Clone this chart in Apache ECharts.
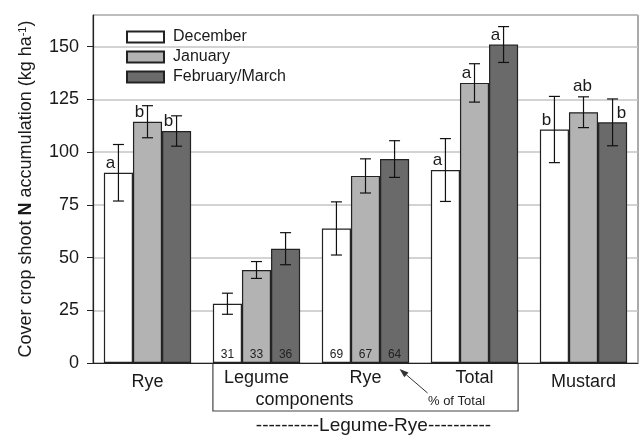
<!DOCTYPE html>
<html>
<head>
<meta charset="utf-8">
<script src="https://cdn.jsdelivr.net/npm/echarts@6/dist/echarts.min.js"></script>
<style>html,body{margin:0;padding:0;background:#fff}#c{width:639px;height:435px}</style>
</head>
<body>
<div id="c"></div>
<script>
// ---- data ----
const categoryKeys = ['rye', 'legume', 'lrRye', 'total', 'mustard'];
const categoryLabels = ['Rye', 'Legume components', 'Rye', 'Total', 'Mustard'];
const seriesNames = ['December', 'January', 'February/March'];
const decValues = [90.2, 28.1, 63.8, 91.5, 110.7];
const janValues = [114.4, 44.1, 88.7, 132.8, 118.9];
const febValues = [110.0, 54.2, 96.7, 151.0, 114.1];
const decErr = [13.4, 5.0, 12.6, 14.9, 15.7];
const janErr = [7.6, 4.0, 8.1, 9.1, 7.3];
const febErr = [7.2, 7.6, 8.7, 8.5, 11.1];
const decLetters = ['a', '', '', 'a', 'b'];
const janLetters = ['b', '', '', 'a', 'ab'];
const febLetters = ['b', '', '', 'a', 'b'];
const decShare = [null, 31, 69, null, null];
const janShare = [null, 33, 67, null, null];
const febShare = [null, 36, 64, null, null];
const yTicks = [0, 25, 50, 75, 100, 125, 150];

// ---- styling ----
const FONT = '"Liberation Sans", Arial, sans-serif';
const TXT = '#1a1a1a';
const colors = ['#ffffff', '#b3b3b3', '#6a6a6a'];
const letterNudge = { '4-1': [-1, -16], '4-2': [9, 0] };

const values = [decValues, janValues, febValues];
const errs = [decErr, janErr, febErr];
const letters = [decLetters, janLetters, febLetters];
const shares = [decShare, janShare, febShare];

const chart = echarts.init(document.getElementById('c'), null, { renderer: 'canvas' });

const barSeries = values.map((vals, s) => ({
  name: seriesNames[s],
  type: 'bar',
  barGap: '0%',
  barCategoryGap: '20%',
  itemStyle: { color: colors[s], borderColor: '#222', borderWidth: 1.2 },
  emphasis: { disabled: true },
  z: 2,
  data: vals.map((v, k) => {
    const item = { value: v };
    if (letters[s][k]) {
      item.label = {
        show: true, position: 'top', distance: 1,
        offset: letterNudge[k + '-' + s] || [-8, 0],
        formatter: letters[s][k], fontSize: 17, color: TXT, fontFamily: FONT
      };
    } else if (shares[s][k] != null) {
      item.label = {
        show: true, position: 'insideBottom', distance: 2,
        formatter: String(shares[s][k]), fontSize: 12, color: '#222', fontFamily: FONT
      };
    }
    return item;
  })
}));

const errSeries = values.map((vals, s) => ({
  type: 'custom',
  z: 5,
  silent: true,
  data: vals.map((v, k) => [k, v - errs[s][k], v + errs[s][k]]),
  renderItem: function (params, api) {
    const lo = api.coord([api.value(0), api.value(1)]);
    const hi = api.coord([api.value(0), api.value(2)]);
    const band = api.size([1, 0])[0];
    const bw = band * 0.8 / 3;
    const x = lo[0] + (s - 1) * bw;
    const cap = 5.5;
    const st = { stroke: '#111', lineWidth: 1.2 };
    return {
      type: 'group',
      children: [
        { type: 'line', shape: { x1: x, y1: lo[1], x2: x, y2: hi[1] }, style: st },
        { type: 'line', shape: { x1: x - cap, y1: lo[1], x2: x + cap, y2: lo[1] }, style: st },
        { type: 'line', shape: { x1: x - cap, y1: hi[1], x2: x + cap, y2: hi[1] }, style: st }
      ]
    };
  }
}));

chart.setOption({
  animation: false,
  textStyle: { fontFamily: FONT, color: TXT },
  grid: { left: 93, right: 1, top: 15, bottom: 72, show: true, borderColor: '#555', borderWidth: 1 },
  legend: {
    data: seriesNames,
    orient: 'vertical',
    left: 126, top: 29, padding: 0,
    itemWidth: 37, itemHeight: 11, itemGap: 4,
    icon: 'rect',
    selectedMode: false,
    textStyle: { fontSize: 16, color: TXT, fontFamily: FONT, padding: [0, 0, 0, 4] }
  },
  xAxis: {
    type: 'category',
    data: categoryKeys,
    axisLine: { lineStyle: { color: '#222', width: 1.2 } },
    axisTick: { show: false },
    axisLabel: {
      interval: 0, margin: 4, color: TXT, fontFamily: FONT, fontSize: 18,
      formatter: function (val, idx) {
        const lab = categoryLabels[idx];
        if (idx === 0 || idx === 4) return '{o|' + lab + '}';
        if (idx === 1) { const p = lab.split(' '); return '{m|' + p[0] + '}\n{comp|' + p[1] + '}'; }
        return '{m|' + lab + '}';
      },
      rich: {
        o: { fontSize: 18, color: TXT, fontFamily: FONT, padding: [6, 0, 0, 0] },
        m: { fontSize: 18, color: TXT, fontFamily: FONT, lineHeight: 22 },
        comp: { fontSize: 18, color: TXT, fontFamily: FONT, lineHeight: 22, padding: [0, 0, 0, 96] }
      }
    }
  },
  yAxis: {
    type: 'value',
    min: 0, max: 165, interval: 25,
    name: '{t|Cover crop shoot }{b|N}{t| accumulation (kg ha}{s|-1}{t|)}',
    nameLocation: 'middle',
    nameGap: 58,
    nameTextStyle: {
      rich: {
        t: { fontSize: 18, color: TXT, fontFamily: FONT },
        b: { fontSize: 18, color: TXT, fontFamily: FONT, fontWeight: 'bold' },
        s: { fontSize: 11, color: TXT, fontFamily: FONT, verticalAlign: 'top', lineHeight: 12 }
      }
    },
    axisLine: { show: true, lineStyle: { color: '#222', width: 1.2 } },
    axisTick: { show: true, length: 6, lineStyle: { color: '#222' } },
    axisLabel: {
      margin: 14, fontSize: 18, color: TXT, fontFamily: FONT, showMaxLabel: false,
      formatter: function (v) { return yTicks.indexOf(v) >= 0 ? String(v) : ''; }
    },
    splitLine: { show: true, lineStyle: { color: '#c4c4c4', width: 1.5 } }
  },
  series: barSeries.concat(errSeries)
});

// ---- annotations positioned from the axes ----
const px = (k) => chart.convertToPixel({ xAxisIndex: 0 }, k);
const py = (v) => chart.convertToPixel({ yAxisIndex: 0 }, v);
const band = px(1) - px(0);
const bw = band * 0.8 / 3;
const y0 = py(0);
const boxL = px(1) - 1.5 * bw;
const boxR = px(3) + 1.5 * bw;
const boxB = y0 + 48;
const tip = [px(2) + bw + 5, y0 + 6];
const tail = [px(2) + bw + 33, y0 + 30];
const dx = tip[0] - tail[0], dy = tip[1] - tail[1];
const len = Math.sqrt(dx * dx + dy * dy);
const ux = dx / len, uy = dy / len;
const hl = 9, hw = 3.2;
const base = [tip[0] - ux * hl, tip[1] - uy * hl];

chart.setOption({
  graphic: [
    {
      type: 'polyline', silent: true,
      shape: { points: [[boxL, y0], [boxL, boxB], [boxR, boxB], [boxR, y0]] },
      style: { stroke: '#444', lineWidth: 1.2, fill: null }
    },
    {
      type: 'line', silent: true,
      shape: { x1: tail[0], y1: tail[1], x2: base[0], y2: base[1] },
      style: { stroke: '#333', lineWidth: 1 }
    },
    {
      type: 'polygon', silent: true,
      shape: { points: [tip, [base[0] - uy * hw, base[1] + ux * hw], [base[0] + uy * hw, base[1] - ux * hw]] },
      style: { fill: '#333' }
    },
    {
      type: 'text', silent: true,
      style: { text: '% of Total', x: px(3) - 18, y: y0 + 38, align: 'center', verticalAlign: 'middle',
               font: '13px ' + FONT, fill: '#222' }
    },
    {
      type: 'text', silent: true,
      style: { text: '----------Legume-Rye----------', x: px(2) + 8, y: y0 + 63, align: 'center', verticalAlign: 'middle',
               font: '19px ' + FONT, fill: TXT }
    }
  ]
});
</script>
</body>
</html>
